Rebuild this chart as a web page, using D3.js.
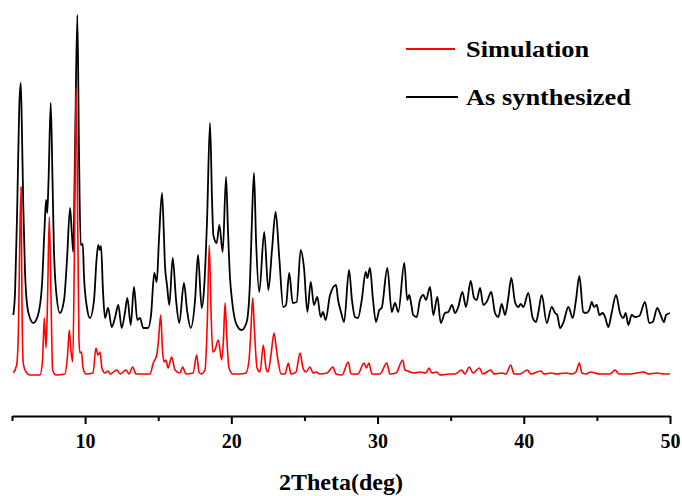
<!DOCTYPE html>
<html>
<head>
<meta charset="utf-8">
<script src="https://cdn.jsdelivr.net/npm/d3@7/dist/d3.min.js"></script>
<style>
  html, body { margin: 0; padding: 0; background: #fff; }
  svg { display: block; }
  text { font-family: "Liberation Serif", "Times New Roman", serif; font-weight: bold; fill: #000; }
</style>
</head>
<body>
<svg id="chart" width="682" height="496"></svg>
<script>
// ---- Data (2Theta in degrees, intensity in arbitrary units, offset for stacking) ----
const simTheta = [5.09,5.32,5.44,5.51,5.62,5.68,5.77,5.96,6.23,6.91,7.09,7.21,7.33,7.43,7.55,7.67,7.78,8.01,8.62,8.80,8.92,9.03,9.15,9.27,9.38,9.48,9.58,9.65,9.75,9.86,10.06,10.54,10.74,10.88,11.02,11.15,11.36,11.57,11.70,12.18,12.39,12.80,13.00,13.25,13.48,14.44,14.66,14.90,15.02,15.17,15.29,15.40,15.53,15.67,15.92,16.15,16.49,16.67,16.90,17.38,17.63,17.79,17.93,18.20,18.36,18.49,18.61,18.73,18.88,19.11,19.34,19.46,19.57,19.70,19.84,20.11,20.59,21.00,21.21,21.34,21.46,21.58,21.76,21.96,22.19,22.37,22.51,22.71,22.92,23.09,23.21,23.40,23.67,23.90,24.08,24.42,24.70,24.90,25.11,25.38,25.59,25.79,26.06,26.54,26.95,27.16,27.57,28.00,28.18,28.66,29.07,29.24,29.41,29.62,30.17,30.63,30.85,31.26,31.72,31.88,32.08,32.22,32.49,32.90,33.31,33.52,33.72,34.05,34.27,34.95,35.30,35.75,35.98,36.27,36.53,36.96,37.21,37.74,37.96,38.49,38.78,39.11,39.33,39.74,40.24,40.49,41.16,41.38,41.91,42.20,42.89,43.30,43.57,43.80,43.98,44.26,44.58,44.87,45.21,45.90,46.24,46.51,47.26,48.22,48.50,49.11,49.59,50.00];
const simInt   = [43,51,86,156,229,116,53,44,41,41,56,98,68,116,199,116,46,41,42,61,86,66,54,166,328,216,76,63,64,48,42,43,68,61,64,48,43,45,42,46,42,46,42,49,42,42,53,61,76,101,66,54,56,48,59,46,43,49,42,43,61,44,42,46,96,171,106,64,66,76,56,76,113,76,48,42,42,43,56,86,118,86,48,44,71,48,44,61,83,66,54,42,42,53,42,44,63,48,44,49,43,44,42,43,49,42,41,54,42,42,53,48,53,42,42,53,42,43,56,46,45,44,43,44,43,48,43,44,41,42,42,46,42,49,43,48,42,46,42,43,42,51,42,42,46,42,45,42,43,42,43,42,44,53,43,42,44,43,42,42,46,42,42,44,42,43,42,42];

const expTheta = [5.09,5.21,5.36,5.50,5.60,5.68,5.77,5.89,6.11,6.46,6.78,7.05,7.22,7.33,7.41,7.50,7.65,7.77,7.87,8.01,8.28,8.56,8.76,8.97,9.10,9.19,9.31,9.47,9.58,9.70,9.84,9.92,10.13,10.33,10.61,10.78,10.90,11.00,11.09,11.22,11.36,11.57,11.82,12.04,12.27,12.50,12.73,12.89,13.12,13.34,13.57,13.75,13.98,14.30,14.51,14.73,14.90,15.05,15.26,15.40,15.46,15.60,15.76,15.99,16.22,16.44,16.76,16.97,17.22,17.52,17.72,17.97,18.13,18.34,18.54,18.68,18.77,19.00,19.18,19.41,19.64,19.77,19.91,20.03,20.37,20.71,21.05,21.28,21.41,21.55,21.69,21.91,22.25,22.53,22.78,23.03,23.28,23.55,23.74,23.96,24.20,24.47,24.74,24.97,25.20,25.43,25.65,25.88,26.11,26.27,26.45,26.75,27.16,27.30,27.50,27.71,28.05,28.25,28.46,28.66,28.92,29.19,29.30,29.48,29.69,29.89,30.12,30.28,30.67,30.97,31.19,31.42,31.83,32.03,32.17,32.29,32.44,32.68,32.90,33.13,33.31,33.59,33.81,34.09,34.32,34.61,34.84,35.09,35.30,35.52,35.80,36.05,36.37,36.60,36.78,37.01,37.23,37.46,37.78,38.03,38.26,38.49,38.72,38.92,39.15,39.40,39.63,39.79,39.97,40.31,40.61,40.84,40.99,41.23,41.57,41.91,42.14,42.29,42.48,42.70,43.05,43.35,43.57,43.80,44.07,44.26,44.48,44.65,44.80,44.99,45.17,45.40,45.56,45.78,46.01,46.31,46.58,46.81,46.97,47.15,47.38,47.61,47.90,48.29,48.58,48.82,49.13,49.36,49.59,49.73,50.00];
const expInt   = [101,124,211,311,333,286,211,144,104,93,101,131,186,216,203,236,313,236,166,126,103,116,156,208,181,164,266,401,266,171,172,141,108,98,116,156,171,166,170,126,98,108,89,98,111,88,104,118,91,129,96,98,88,88,101,143,134,176,223,176,151,131,111,158,116,93,133,106,88,116,161,108,126,196,293,216,181,173,191,164,239,186,138,118,91,86,94,136,196,243,176,124,184,126,166,204,158,109,111,143,113,114,166,148,104,134,111,119,99,104,96,121,131,116,104,94,146,116,99,98,116,144,138,148,116,94,106,108,148,104,113,104,153,116,121,113,101,99,116,121,116,129,101,119,93,103,104,111,103,109,124,109,135,118,116,128,111,114,124,103,99,112,101,116,138,114,109,112,109,123,98,94,103,121,93,109,103,101,88,93,109,98,116,140,104,103,106,114,109,111,101,103,99,89,103,121,103,98,103,91,101,99,100,114,93,94,108,101,94,101,103];

const xTicksMajor = [10, 20, 30, 40, 50];
const xTicksMinor = [5, 15, 25, 35, 45];
const seriesNames = ["Simulation", "As synthesized"];
const seriesColors = ["#ff0000", "#000000"];
const xTitle = "2Theta(deg)";

// ---- Layout ----
const svg = d3.select("#chart");
const x = d3.scaleLinear().domain([5, 50]).range([12, 670]);
const y = d3.scaleLinear().domain([0, 400]).range([416, 16]);

const line = d3.line()
  .x(d => x(d[0]))
  .y(d => y(d[1]))
  .curve(d3.curveMonotoneX);

const simData = simTheta.map((t, i) => [t, simInt[i]]);
const expData = expTheta.map((t, i) => [t, expInt[i]]);

svg.append("path")
  .datum(expData)
  .attr("d", line)
  .attr("fill", "none")
  .attr("stroke", seriesColors[1])
  .attr("stroke-width", 1.8)
  .attr("stroke-linejoin", "round");

svg.append("path")
  .datum(simData)
  .attr("d", line)
  .attr("fill", "none")
  .attr("stroke", seriesColors[0])
  .attr("stroke-width", 1.6)
  .attr("stroke-linejoin", "round");

// ---- Axis ----
const axisG = svg.append("g").attr("transform", `translate(0,${y(0)})`);
axisG.call(d3.axisBottom(x).tickValues(xTicksMajor).tickSize(8).tickSizeOuter(0).tickPadding(10).tickFormat(d3.format("d")));
axisG.select(".domain").attr("stroke-width", 2.2);
axisG.selectAll(".tick line").attr("stroke-width", 2);
axisG.selectAll(".tick text")
  .attr("font-family", "Liberation Serif, Times New Roman, serif")
  .attr("font-weight", "bold")
  .attr("font-size", 20)
  .attr("fill", "#000");

const minorG = svg.append("g").attr("transform", `translate(0,${y(0)})`);
minorG.call(d3.axisBottom(x).tickValues(xTicksMinor).tickSize(5).tickSizeOuter(0).tickFormat(""));
minorG.select(".domain").remove();
minorG.selectAll(".tick line").attr("stroke-width", 2);

svg.append("text")
  .attr("x", x(27.5))
  .attr("y", 490)
  .attr("text-anchor", "middle")
  .attr("font-size", 24)
  .text(xTitle);

// ---- Legend ----
const legendY = [49, 97];
const legend = svg.append("g");
seriesNames.forEach((name, i) => {
  legend.append("line")
    .attr("x1", 406).attr("x2", i === 0 ? 455 : 458)
    .attr("y1", legendY[i]).attr("y2", legendY[i])
    .attr("stroke", seriesColors[i])
    .attr("stroke-width", 2);
  legend.append("text")
    .attr("transform", `translate(466,${legendY[i] + 8}) scale(1.1,1)`)
    .attr("font-size", 24)
    .text(name);
});
</script>
</body>
</html>
